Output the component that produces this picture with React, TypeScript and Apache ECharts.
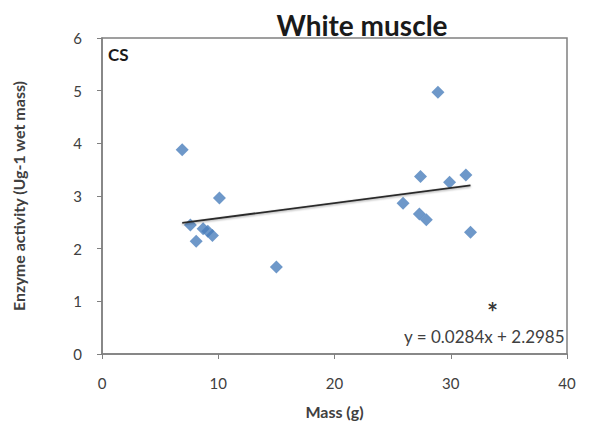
import React, { useEffect, useRef } from "react";
import * as echarts from "echarts";

const massX = [6.9, 10.1, 7.6, 8.1, 8.7, 9.1, 9.5, 15.0, 28.9, 27.4, 29.9, 31.3, 25.9, 27.3, 27.9, 31.7];
const activityY = [3.88, 2.96, 2.45, 2.14, 2.38, 2.33, 2.25, 1.65, 4.97, 3.37, 3.26, 3.4, 2.86, 2.66, 2.55, 2.31];
const trendX = [6.9, 31.7];
const trendY = [2.49, 3.2];
const starX = [33.6];
const starY = [0.9];
const xTicks = [0, 10, 20, 30, 40];
const yTicks = [0, 1, 2, 3, 4, 5, 6];

const FONT = "Lato, 'Open Sans', sans-serif";

export default function App() {
  const ref = useRef<HTMLDivElement>(null);
  useEffect(() => {
    if (!ref.current) return;
    const chart = echarts.init(ref.current, undefined, { renderer: "svg" });
    chart.setOption({
      animation: false,
      backgroundColor: "#ffffff",
      title: {
        text: "White muscle",
        left: 357,
        top: 6,
        textAlign: "center",
        textStyle: { fontFamily: FONT, fontWeight: "bold", fontSize: 28, color: "#1a1a1a" },
      },
      grid: {
        left: 102,
        top: 38,
        right: 23,
        bottom: 73,
        show: true,
        borderColor: "#808080",
        borderWidth: 1.5,
        backgroundColor: "transparent",
      },
      xAxis: {
        type: "value",
        min: xTicks[0],
        max: xTicks[xTicks.length - 1],
        interval: 10,
        name: "Mass (g)",
        nameLocation: "middle",
        nameGap: 49,
        nameTextStyle: { fontFamily: FONT, fontSize: 16, fontWeight: "bold", color: "#404040" },
        axisLine: { show: true, lineStyle: { color: "#808080", width: 1.5 } },
        axisTick: { show: true, inside: false, length: 5, lineStyle: { color: "#808080" } },
        axisLabel: { fontFamily: FONT, fontSize: 15, color: "#404040", margin: 21 },
        splitLine: { show: false },
      },
      yAxis: {
        type: "value",
        min: yTicks[0],
        max: yTicks[yTicks.length - 1],
        interval: 1,
        name: "Enzyme activity (Ug-1 wet mass)",
        nameLocation: "middle",
        nameGap: 76,
        nameTextStyle: { fontFamily: FONT, fontSize: 16, fontWeight: "bold", color: "#404040" },
        axisLine: { show: true, lineStyle: { color: "#808080", width: 1.5 } },
        axisTick: { show: true, inside: false, length: 5, lineStyle: { color: "#808080" } },
        axisLabel: { fontFamily: FONT, fontSize: 15, color: "#404040", margin: 20 },
        splitLine: { show: false },
      },
      series: [
        {
          type: "line",
          data: trendX.map((x, i) => [x, trendY[i]]),
          symbol: "none",
          lineStyle: { color: "#2b2b2b", width: 1.8, shadowColor: "rgba(0,0,0,0.35)", shadowBlur: 2, shadowOffsetY: 1 },
          z: 3,
        },
        {
          type: "scatter",
          data: massX.map((x, i) => [x, activityY[i]]),
          symbol: "diamond",
          symbolSize: 13,
          itemStyle: { color: "#4a7ebb" },
          z: 2,
        },
        {
          type: "scatter",
          data: starX.map((x, i) => [x, starY[i]]),
          symbolSize: 0,
          label: {
            show: true,
            position: "inside",
            formatter: "*",
            fontFamily: FONT,
            fontSize: 26,
            lineHeight: 12,
            fontWeight: "bold",
            color: "#000000",
            offset: [0, 5],
          },
          z: 4,
        },
      ],
      graphic: [
        {
          type: "text",
          left: 108,
          top: 46,
          style: { text: "CS", fontFamily: FONT, fontSize: 17, fontWeight: "bold", fill: "#1a1a1a" },
        },
        {
          type: "text",
          right: 25,
          top: 328,
          style: { text: "y = 0.0284x + 2.2985", fontFamily: FONT, fontSize: 17, fill: "#404040" },
        },
      ],
    });
    return () => chart.dispose();
  }, []);
  return <div ref={ref} style={{ position: "absolute", left: 0, top: 0, width: 590, height: 427 }} />;
}
